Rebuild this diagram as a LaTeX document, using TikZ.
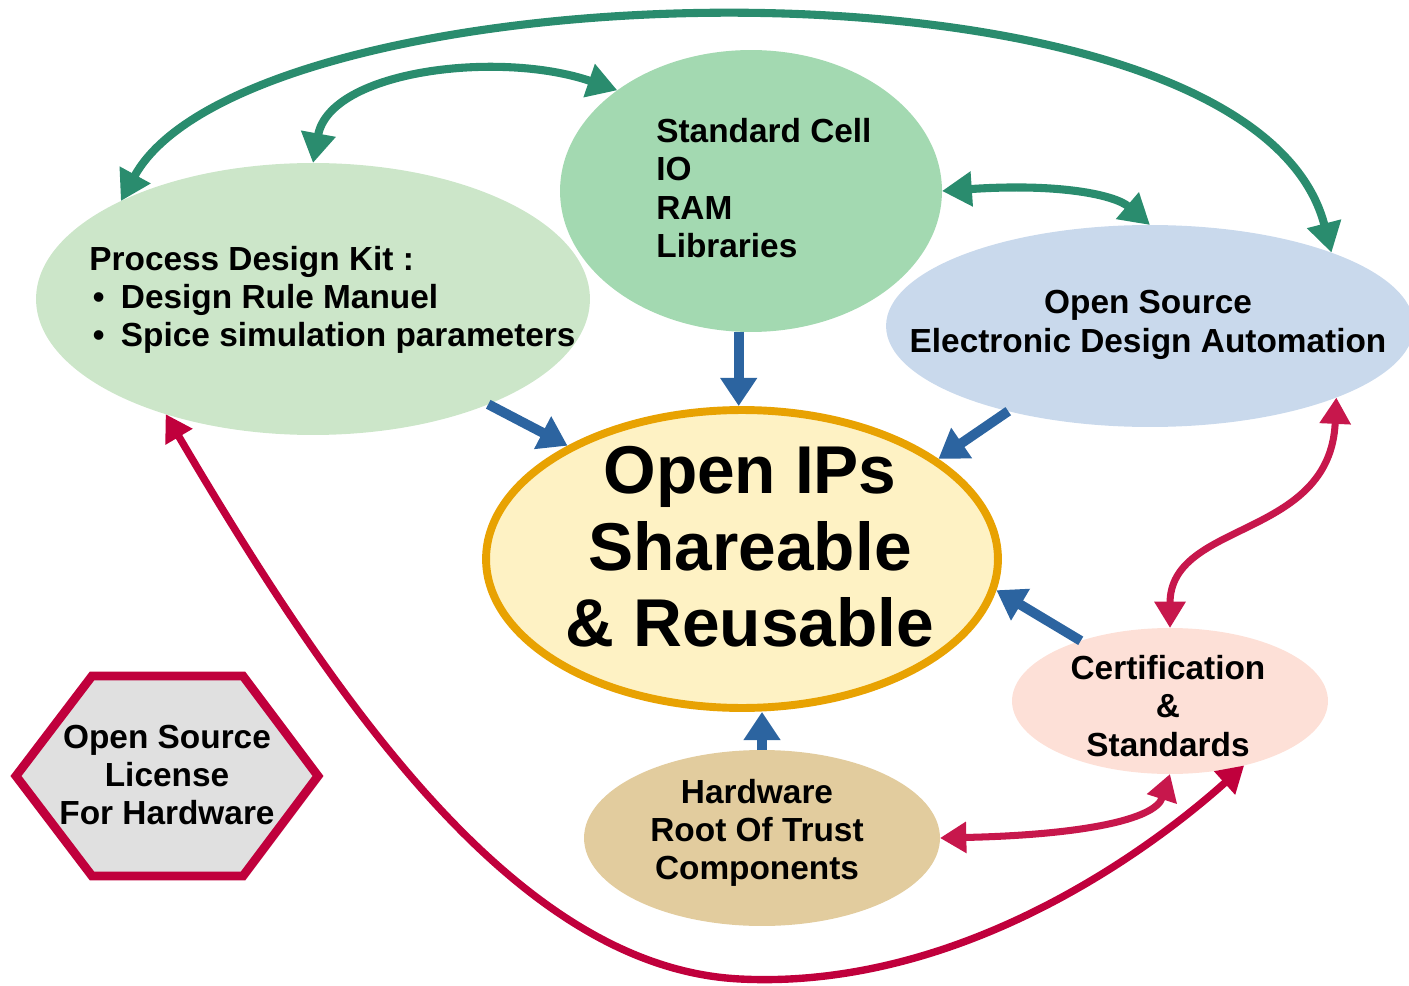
\documentclass[tikz,border=0pt]{standalone}
\usepackage{fontspec}
\setmainfont{Liberation Sans}
\usetikzlibrary{shapes.geometric,arrows.meta,calc}
\definecolor{pdkc}{HTML}{CCE6C9}
\definecolor{scc}{HTML}{A3D9B1}
\definecolor{edac}{HTML}{C9D9EC}
\definecolor{mainc}{HTML}{FEF2C4}
\definecolor{mainb}{HTML}{E8A202}
\definecolor{certc}{HTML}{FDE0D7}
\definecolor{hwc}{HTML}{E2CC9E}
\definecolor{hexc}{HTML}{E0E0E0}
\definecolor{hexb}{HTML}{C0003C}
\definecolor{grn}{HTML}{2A8C6E}
\definecolor{blu}{HTML}{2C64A0}
\definecolor{crim}{HTML}{C7174C}
\definecolor{crimd}{HTML}{C0003C}
\begin{document}
\begin{tikzpicture}[x=0.02cm,y=-0.02cm,
  blob/.style={ellipse, inner sep=0pt, outer sep=0pt, draw=none},
  txt/.style={align=center, inner sep=0pt, font=\bfseries\fontsize{19}{21.8}\selectfont},
  bigtxt/.style={align=center, inner sep=0pt, font=\bfseries\fontsize{38.5}{43.5}\selectfont},
  garrow/.style={draw=grn, line width=4.6pt, {Triangle[length=17pt,width=19pt]}-{Triangle[length=17pt,width=19pt]}},
  barrow/.style={draw=blu, line width=5.6pt, -{Triangle[length=16pt,width=20pt]}},
  rarrow/.style={draw=crim, line width=4pt, {Triangle[length=15pt,width=17pt]}-{Triangle[length=15pt,width=17pt]}},
  hexs/.style={draw=hexb, fill=hexc, line width=5pt, line join=miter}
]
\useasboundingbox (0,0) rectangle (1409,986);

% shapes
\node[blob, fill=pdkc, minimum width=11.08cm, minimum height=5.44cm] (pdk) at (313,299) {};
\node[blob, fill=scc, minimum width=7.64cm, minimum height=5.64cm] (sc) at (751,191) {};
\node[blob, fill=edac, minimum width=10.56cm, minimum height=4.04cm] (eda) at (1150,326) {};
\node[blob, fill=mainc, draw=mainb, line width=4.5pt, outer sep=2.25pt, minimum width=10.24cm, minimum height=5.96cm] (main) at (742,559) {};
\node[blob, fill=certc, minimum width=6.32cm, minimum height=2.92cm] (cert) at (1170,701) {};
\node[blob, fill=hwc, minimum width=7.12cm, minimum height=3.52cm] (hw) at (762,838) {};
\draw[hexs] (16,776) -- (92,676) -- (243,676) -- (318,776) -- (243,876) -- (92,876) -- cycle;

% green connectors
\draw[garrow] (pdk.153) .. controls (250,-35) and (1250,-65) .. (eda.22);
\draw[garrow] (pdk.north) .. controls (330,70) and (500,50) .. (sc.143);
\draw[garrow] (sc.east) .. controls (1060,183) and (1115,195) .. (eda.north);

% blue connectors
\draw[barrow] (sc.-95) -- (sc.-95 |- main.north);
\draw[barrow] (pdk.-31) -- (main.147);
\draw[barrow] (eda.-149) -- (main.27);
\draw[barrow] (cert.146) -- (main.-7);
\draw[barrow] (hw.north) -- (hw.north |- main.south);

% crimson connectors
\draw[rarrow] (eda.-21) .. controls (1330,540) and (1170,520) .. (cert.north);
\draw[rarrow] (hw.east) .. controls (1080,835) and (1155,820) .. (cert.south);
\draw[rarrow, draw=crimd, line width=4.2pt] (pdk.-142) .. controls (340,710) and (520,968) .. (740,979) .. controls (960,990) and (1150,850) .. (cert.-41);

% texts
\node[txt, align=left, anchor=west] (pdkt) at (89,300) {Process Design Kit :\\
\makebox[18pt][l]{\hspace{2pt}\textbullet}Design Rule Manuel\\
\makebox[18pt][l]{\hspace{2pt}\textbullet}Spice simulation parameters};
\node[txt, align=left, anchor=west] (sct) at (656,188) {Standard Cell\\IO\\RAM\\Libraries};
\node[txt] (edat) at (1148,325) {Open Source\\Electronic Design Automation};
\node[bigtxt] (maint) at (750,547) {Open IPs\\Shareable\\\& Reusable};
\node[txt] (certt) at (1168,706) {Certification\\\&\\Standards};
\node[txt] (hwt) at (757,833) {Hardware\\Root Of Trust\\Components};
\node[txt] (hext) at (167,775) {Open Source\\License\\For Hardware};
\end{tikzpicture}
\end{document}
